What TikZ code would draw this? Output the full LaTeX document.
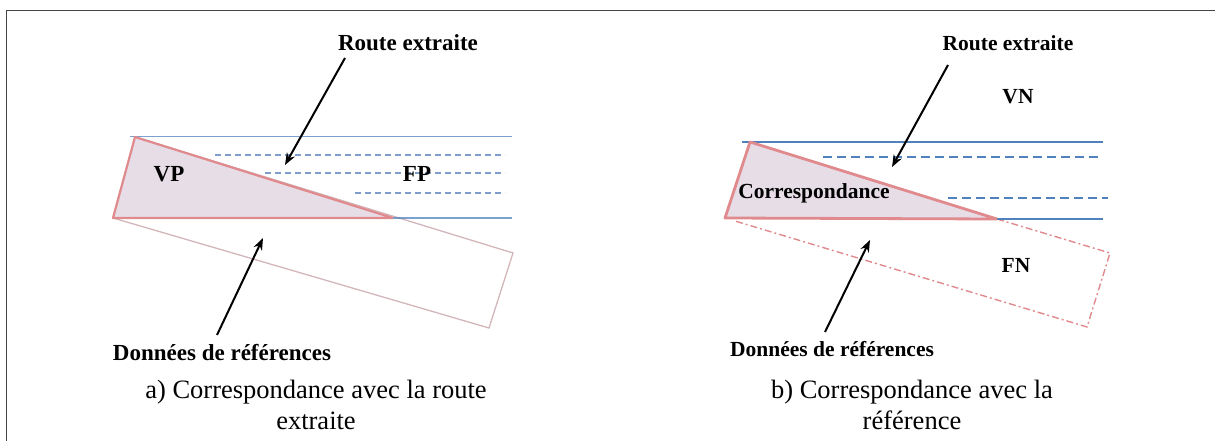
\documentclass[tikz,border=0pt]{standalone}
\usepackage{fontspec}
\setmainfont{Liberation Serif}
\usetikzlibrary{arrows.meta}
\definecolor{roadblue}{HTML}{4F81BD}
\definecolor{fadeblue}{HTML}{7F9CCB}
\definecolor{refred}{HTML}{E08A8E}
\definecolor{reffill}{HTML}{E6DDE7}
\definecolor{refgray}{HTML}{D2B6BA}
\definecolor{framegray}{HTML}{444444}
\tikzset{
  lbla/.style={font=\fontsize{23}{27}\selectfont\bfseries, inner sep=0pt},
  lblb/.style={font=\fontsize{21.5}{25}\selectfont\bfseries, inner sep=0pt},
  capt/.style={font=\fontsize{26.5}{30.5}\selectfont, align=center, inner sep=0pt},
  pointer/.style={line width=2pt, -{Stealth[length=12pt,width=9pt]}},
  solidroad/.style={roadblue, line width=1.8pt},
  dasha/.style={fadeblue, line width=1.3pt, dash pattern=on 6pt off 4pt},
  dashb/.style={roadblue, line width=1.8pt, dash pattern=on 9pt off 5pt},
}
\begin{document}
\begin{tikzpicture}[x=1pt,y=-1pt]
\useasboundingbox (0,0) rectangle (1215,441);
% frame
\draw[framegray, line width=1.8pt] (6.5,441) -- (6.5,10.5) -- (1215,10.5);

% ---------- panel a ----------
\draw[refgray, line width=1.3pt] (135,137) -- (513,253) -- (489,328) -- (113,218) -- cycle;
\fill[reffill] (135,137) -- (393,218) -- (113,218) -- cycle;
\draw[dasha] (215,155) -- (505,155);
\draw[dasha] (265,173) -- (505,173);
\draw[dasha] (355,193) -- (505,193);
\draw[solidroad, opacity=0.75] (130,136.5) -- (512,136.5);
\draw[solidroad, opacity=0.75] (390,218) -- (512,218);
\draw[refred, line width=2.2pt, line join=round] (393,218) -- (135,137) -- (113,218) -- (393,218);

\node[lbla] (rea) at (408,43) {Route extraite};
\node[lbla] (vp) at (169,174) {VP};
\node[lbla] (fp) at (417,174) {FP};
\node[lbla] (dra) at (222,353) {Données de références};
\coordinate (rea0) at (345,58);
\coordinate (rea1) at (285,165);
\coordinate (dra0) at (217,335);
\coordinate (dra1) at (263,238);
\draw[pointer] (rea0) -- (rea1);
\draw[pointer] (dra0) -- (dra1);
\node[capt] (capa) at (316,405) {a) Correspondance avec la route\\extraite};

% ---------- panel b ----------
\fill[reffill] (750,142) -- (997,219) -- (725,218) -- cycle;
\draw[refred, line width=1.4pt, dash pattern=on 7pt off 3pt on 2pt off 3pt] (997,219) -- (1110,253) -- (1087,327) -- (735,221);
\draw[dashb] (823,157) -- (1102,157);
\draw[dashb] (948,198) -- (1108,198);
\draw[solidroad] (742,142) -- (1103,142);
\draw[solidroad] (997,219) -- (1103,219);
\draw[refred, line width=2.8pt, line join=round] (997,219) -- (750,142) -- (725,218) -- (997,219);

\node[lblb] (reb) at (1008,43) {Route extraite};
\node[lblb] (vn) at (1018,97) {VN};
\node[lblb] (corr) at (814,193) {Correspondance};
\node[lblb] (fn) at (1016,265) {FN};
\node[lblb] (drb) at (832,349) {Données de références};
\coordinate (reb0) at (948,65);
\coordinate (reb1) at (892,167);
\coordinate (drb0) at (825,332);
\coordinate (drb1) at (870,240);
\draw[pointer] (reb0) -- (reb1);
\draw[pointer] (drb0) -- (drb1);
\node[capt] (capb) at (912,405) {b) Correspondance avec la\\référence};
\end{tikzpicture}
\end{document}
